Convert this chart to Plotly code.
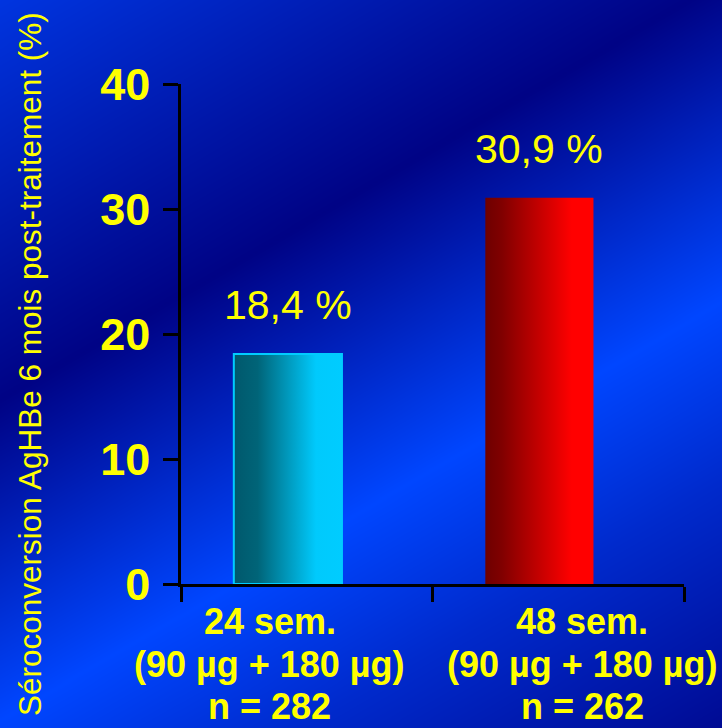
import numpy as np
import plotly.graph_objects as go

# ---- data ----
categories = [["24 sem.", "(90 µg + 180 µg)", "n = 282"],
              ["48 sem.", "(90 µg + 180 µg)", "n = 262"]]
values = [18.4, 30.9]
value_labels = ["18,4 %", "30,9 %"]
y_ticks = [0, 10, 20, 30, 40]
y_title = "Séroconversion AgHBe 6 mois post-traitement (%)"

# ---- style ----
W, H = 722, 728
YELLOW = "#ffff00"
FONT = "Liberation Sans, Arial, sans-serif"
bar_offset = -0.075
bar_width = 0.43
bar_scales = [
    [[0, "rgb(0,88,108)"], [0.22, "rgb(0,100,120)"], [0.76, "rgb(0,202,252)"], [1, "rgb(0,204,255)"]],
    [[0, "rgb(110,0,0)"], [0.15, "rgb(128,0,0)"], [0.8, "rgb(255,0,0)"], [1, "rgb(255,0,0)"]],
]
bar_edges = [dict(color="#00ccff", width=2), dict(color="rgba(0,0,0,0)", width=0)]
label_shift = [-37, 24]
label_rows_px = [621, 664, 706]

x_dom = [181 / W, 684 / W]
y_dom = [1 - 584 / H, 1 - 84 / H]

fig = go.Figure()

# diagonal blue backdrop across the whole page
gx = np.linspace(0, W, 241)
gy = np.linspace(0, H, 241)
GX, GY = np.meshgrid(gx, gy)
T = GY + 0.58 * GX
shade = np.interp(T, [0, 400, 720, 900, 1147], [0.75, 0.04, 1.0, 0.6, 0.15])
fig.add_trace(go.Heatmap(
    x=gx, y=gy, z=shade, zmin=0, zmax=1, zsmooth="best",
    colorscale=[[0, "rgb(0,0,128)"], [1, "rgb(0,70,255)"]],
    showscale=False, hoverinfo="skip", xaxis="x", yaxis="y",
))

# bars with horizontal colour gradients
for i, v in enumerate(values):
    c = i + bar_offset
    x0, x1 = c - bar_width / 2, c + bar_width / 2
    fig.add_trace(go.Scatter(
        x=[x0, x1, x1, x0, x0], y=[0, 0, v, v, 0],
        mode="lines", fill="toself",
        fillgradient=dict(type="horizontal", colorscale=bar_scales[i]),
        line=bar_edges[i], hoverinfo="skip", showlegend=False,
        xaxis="x2", yaxis="y2",
    ))
    fig.add_annotation(
        x=c, y=v, xref="x2", yref="y2", text=value_labels[i],
        showarrow=False, yanchor="bottom", yshift=24,
        font=dict(family=FONT, size=41, color=YELLOW),
    )
    for row, line in zip(label_rows_px, categories[i]):
        fig.add_annotation(
            x=i, y=1 - row / H, xref="x2", yref="paper", text=line,
            showarrow=False, yanchor="middle", xshift=label_shift[i],
            font=dict(family=FONT, size=36, color=YELLOW, weight="bold"),
        )

fig.add_annotation(
    x=30 / W, y=1 - 364 / H, xref="paper", yref="paper", text=y_title,
    textangle=-90, showarrow=False, xanchor="center", yanchor="middle",
    font=dict(family=FONT, size=31.5, color=YELLOW),
)

fig.update_layout(
    width=W, height=H, margin=dict(l=0, r=0, t=0, b=0, pad=0, autoexpand=False),
    paper_bgcolor="rgb(0,20,160)", plot_bgcolor="rgba(0,0,0,0)",
    showlegend=False,
    xaxis=dict(domain=[0, 1], range=[0, W], visible=False, fixedrange=True,
               automargin=False),
    yaxis=dict(domain=[0, 1], range=[H, 0], visible=False, fixedrange=True,
               automargin=False),
    xaxis2=dict(
        domain=x_dom, range=[-0.5, 1.5], anchor="y2", automargin=False,
        tickvals=[-0.5, 0.5, 1.5], showticklabels=False,
        ticks="outside", ticklen=15, tickwidth=2.5, tickcolor="black",
        showline=True, linecolor="black", linewidth=2.5,
        showgrid=False, zeroline=False,
    ),
    yaxis2=dict(
        domain=y_dom, range=[0, 40], anchor="x2", automargin=False,
        tickvals=y_ticks, ticks="outside", ticklen=15, tickwidth=2.5,
        tickcolor="black", showline=True, linecolor="black", linewidth=2.5,
        showgrid=False, zeroline=False, ticklabelstandoff=4,
        tickfont=dict(family=FONT, size=45, color=YELLOW, weight="bold"),
    ),
)

fig.write_html("out.html")
